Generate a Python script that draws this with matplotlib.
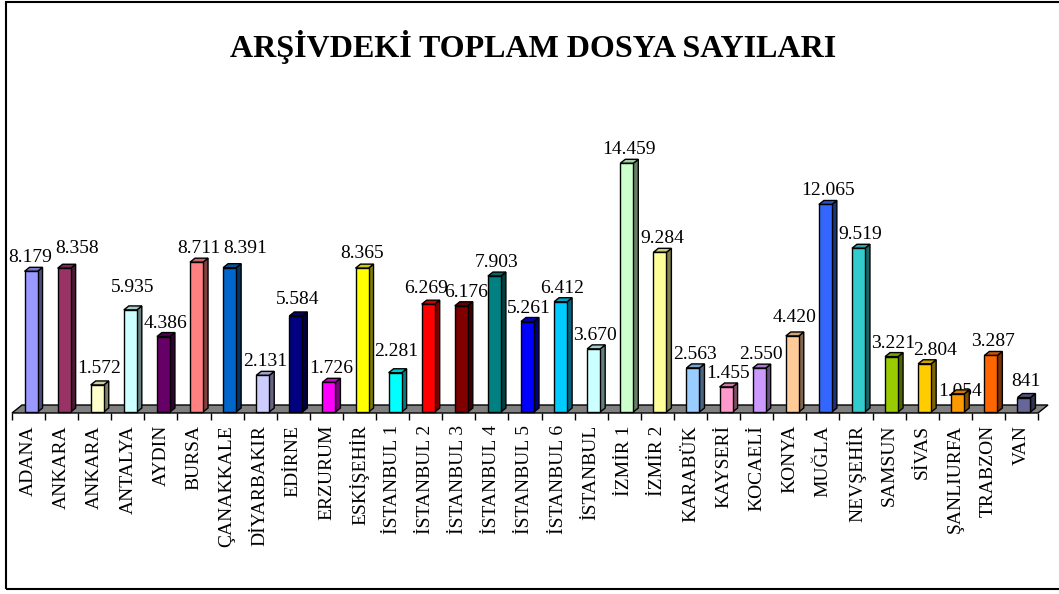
import numpy as np
import matplotlib
matplotlib.use("Agg")
import matplotlib.pyplot as plt
from matplotlib.patches import Polygon, Rectangle
from matplotlib.colors import to_rgb

# -------------------------------
# Data
# -------------------------------
cities = ["ADANA", "ANKARA", "ANKARA", "ANTALYA", "AYDIN", "BURSA", "ÇANAKKALE",
          "DİYARBAKIR", "EDİRNE", "ERZURUM", "ESKİŞEHİR", "İSTANBUL 1", "İSTANBUL 2",
          "İSTANBUL 3", "İSTANBUL 4", "İSTANBUL 5", "İSTANBUL 6", "İSTANBUL",
          "İZMİR 1", "İZMİR 2", "KARABÜK", "KAYSERİ", "KOCAELİ", "KONYA", "MUĞLA",
          "NEVŞEHİR", "SAMSUN", "SİVAS", "ŞANLIURFA", "TRABZON", "VAN"]
files = [8179, 8358, 1572, 5935, 4386, 8711, 8391, 2131, 5584, 1726, 8365,
         2281, 6269, 6176, 7903, 5261, 6412, 3670, 14459, 9284, 2563, 1455,
         2550, 4420, 12065, 9519, 3221, 2804, 1054, 3287, 841]
colors = ["#9999FF", "#993366", "#FFFFCC", "#CCFFFF", "#660066", "#FF8080", "#0066CC",
          "#CCCCFF", "#000080", "#FF00FF", "#FFFF00", "#00FFFF", "#FF0000",
          "#800000", "#008080", "#0000FF", "#00CCFF", "#CCFFFF", "#CCFFCC",
          "#FFFF99", "#99CCFF", "#FF99CC", "#CC99FF", "#FFCC99", "#3366FF",
          "#33CCCC", "#99CC00", "#FFCC00", "#FF9900", "#FF6600", "#666699"]
title = "ARŞİVDEKİ TOPLAM DOSYA SAYILARI"

# labels that were dragged by hand in the original (pixel nudges dx, dy)
label_nudge = {0: (-3, 0), 1: (11, 6), 2: (0, 3), 3: (0, 9), 6: (14, 6), 8: (0, 3),
               10: (-2, 1), 11: (-1, 8), 12: (-4, 2), 13: (3, 0), 15: (-1, 0),
               17: (-1, 0), 23: (0, 5), 24: (1, 0), 27: (8, 0), 28: (0, -11),
               30: (0, 3)}

# -------------------------------
# Figure setup
# -------------------------------
W, H = 1059, 594
fig = plt.figure(figsize=(W / 100, H / 100), dpi=100, facecolor="white")
serif = ["Liberation Serif", "DejaVu Serif"]

n = len(cities)
y_top = 17500
x_left_px, x_right_px = 12, 1038
base_px = 412
ax_h_px = y_top * 0.0172
ax = fig.add_axes([x_left_px / W, (H - base_px) / H,
                   (x_right_px - x_left_px) / W, ax_h_px / H])
ax.set_xlim(-0.5, n - 0.5)
ax.set_ylim(0, y_top)
ax.axis("off")

# data units per pixel
px = n / (x_right_px - x_left_px)
py = y_top / ax_h_px

# floor
fdx, fdy = 10 * px, 8 * py
floor = Polygon([(-0.5, -1 * py), (n - 0.5, -1 * py), (n - 0.5 + fdx, -1 * py + fdy),
                 (-0.5 + fdx, -1 * py + fdy)], closed=True, facecolor="#808080",
                edgecolor="black", lw=1, clip_on=False, zorder=1)
ax.add_patch(floor)

# ticks under the floor
ax.vlines(np.arange(n + 1) - 0.5, -8 * py, -1 * py, color="black", lw=1,
          clip_on=False, zorder=1)

# bars
bw = 13 * px
ddx, ddy = 5 * px, 4 * py
for i, (v, c) in enumerate(zip(files, colors)):
    x0 = i + 2.5 * px - bw / 2
    rgb = np.array(to_rgb(c))
    front = Rectangle((x0, 0), bw, v, facecolor=c, edgecolor="black", lw=1,
                      clip_on=False, zorder=3)
    side = Polygon([(x0 + bw, 0), (x0 + bw + ddx, ddy), (x0 + bw + ddx, v + ddy),
                    (x0 + bw, v)], closed=True, facecolor=rgb * 0.5,
                   edgecolor="black", lw=1, clip_on=False, zorder=3)
    top = Polygon([(x0, v), (x0 + ddx, v + ddy), (x0 + bw + ddx, v + ddy),
                   (x0 + bw, v)], closed=True, facecolor=rgb * 0.8,
                  edgecolor="black", lw=1, clip_on=False, zorder=3)
    for p in (side, top, front):
        ax.add_patch(p)

    # value label
    dx, dy = label_nudge.get(i, (0, 0))
    txt = f"{v:,}".replace(",", ".")
    ax.text(i + (4.5 + dx) * px, v + (9 + dy) * py, txt, ha="center",
            va="baseline", fontsize=14, family=serif, color="black", zorder=2)

    # category label
    ax.text(i, -13 * py, cities[i], rotation=90, ha="center", va="top",
            fontsize=14, family=serif, color="black", clip_on=False)

# title
fig.text(533 / W, 1 - 47 / H, title, ha="center", va="center", fontsize=23,
         fontweight="bold", family=serif)

# outer border
fig.add_artist(Rectangle((6 / W, (H - 589) / H), 1.02, (587) / H,
                         transform=fig.transFigure, fill=False,
                         edgecolor="black", lw=1.5))

fig.savefig("out.png", dpi=100)
